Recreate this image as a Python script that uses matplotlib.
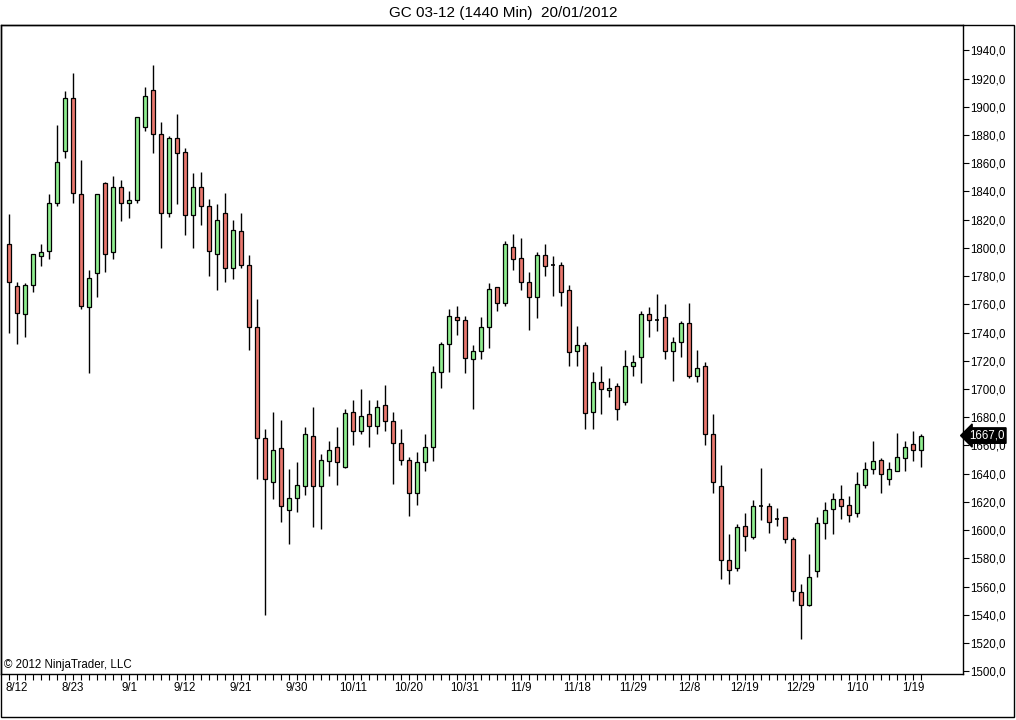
import matplotlib.pyplot as plt
from matplotlib.patches import Rectangle

plt.rcParams['font.family'] = ['Liberation Sans', 'DejaVu Sans']

# daily OHLC, GC 03-12, 8/11/2011 .. 1/20/2012
opens = [1803, 1773, 1753, 1774, 1794, 1798, 1832, 1869, 1906, 1838,
         1758, 1782, 1846, 1797, 1843, 1832, 1834, 1886, 1912, 1881,
         1825, 1878, 1868, 1823, 1843, 1830, 1796, 1825, 1786, 1812,
         1788, 1744, 1665, 1634, 1658, 1614, 1623, 1631, 1667, 1631,
         1649, 1659, 1645, 1684, 1670, 1682, 1674, 1689, 1677, 1662,
         1650, 1626, 1648, 1659, 1712, 1732, 1751, 1749, 1721, 1727,
         1744, 1772, 1761, 1801, 1793, 1776, 1765, 1795, 1788, 1788,
         1770, 1727, 1731, 1684, 1705, 1699, 1702, 1691, 1716, 1723,
         1753, 1749, 1751, 1727, 1733, 1747, 1709, 1716, 1668, 1631,
         1579, 1573, 1603, 1595, 1617, 1617, 1608, 1609, 1594, 1556,
         1547, 1571, 1605, 1615, 1622, 1618, 1612, 1632, 1643, 1650,
         1636, 1642, 1651, 1661, 1657]
highs = [1824, 1776, 1775, 1796, 1803, 1838, 1887, 1911, 1924, 1862,
         1784, 1838, 1847, 1851, 1848, 1840, 1893, 1914, 1930, 1889,
         1879, 1895, 1871, 1853, 1854, 1835, 1831, 1839, 1820, 1825,
         1795, 1764, 1672, 1684, 1678, 1643, 1648, 1673, 1687, 1654,
         1663, 1673, 1686, 1692, 1700, 1692, 1692, 1703, 1684, 1672,
         1652, 1655, 1668, 1716, 1733, 1757, 1759, 1752, 1731, 1751,
         1775, 1772, 1805, 1810, 1807, 1783, 1797, 1803, 1794, 1790,
         1774, 1745, 1733, 1712, 1716, 1708, 1704, 1728, 1724, 1755,
         1758, 1767, 1760, 1737, 1748, 1761, 1728, 1719, 1682, 1646,
         1597, 1604, 1612, 1621, 1644, 1619, 1616, 1609, 1595, 1562,
         1583, 1609, 1620, 1626, 1632, 1624, 1641, 1648, 1663, 1651,
         1648, 1669, 1663, 1670, 1668]
lows = [1740, 1732, 1737, 1769, 1787, 1792, 1830, 1864, 1832, 1757,
        1711, 1765, 1783, 1792, 1819, 1821, 1832, 1883, 1867, 1800,
        1822, 1831, 1809, 1800, 1816, 1780, 1770, 1776, 1778, 1786,
        1728, 1636, 1540, 1622, 1606, 1590, 1613, 1625, 1602, 1601,
        1638, 1632, 1644, 1660, 1668, 1659, 1668, 1670, 1633, 1646,
        1610, 1618, 1642, 1649, 1701, 1712, 1738, 1711, 1686, 1721,
        1729, 1755, 1759, 1784, 1770, 1742, 1750, 1780, 1766, 1759,
        1716, 1716, 1672, 1672, 1682, 1694, 1678, 1689, 1709, 1704,
        1737, 1741, 1721, 1706, 1723, 1708, 1705, 1660, 1626, 1565,
        1562, 1571, 1585, 1594, 1607, 1598, 1603, 1591, 1550, 1523,
        1546, 1567, 1594, 1597, 1608, 1606, 1609, 1630, 1640, 1626,
        1632, 1642, 1642, 1649, 1645]
closes = [1776, 1754, 1774, 1796, 1797, 1832, 1861, 1906, 1839, 1759,
          1779, 1838, 1796, 1843, 1832, 1834, 1893, 1908, 1881, 1825,
          1878, 1867, 1823, 1843, 1830, 1798, 1820, 1786, 1813, 1788,
          1744, 1665, 1636, 1657, 1617, 1623, 1632, 1668, 1631, 1650,
          1657, 1648, 1683, 1670, 1681, 1674, 1687, 1677, 1662, 1650,
          1626, 1648, 1659, 1712, 1732, 1752, 1749, 1722, 1727, 1744,
          1771, 1761, 1803, 1792, 1776, 1765, 1795, 1787, 1788, 1769,
          1726, 1731, 1683, 1705, 1700, 1701, 1686, 1716, 1719, 1753,
          1749, 1749, 1727, 1733, 1747, 1709, 1715, 1668, 1634, 1579,
          1572, 1602, 1596, 1617, 1617, 1606, 1608, 1594, 1557, 1547,
          1567, 1605, 1614, 1622, 1617, 1611, 1633, 1643, 1649, 1640,
          1643, 1652, 1659, 1657, 1667]

date_labels = ['8/12', '8/23', '9/1', '9/12', '9/21', '9/30', '10/11', '10/20',
               '10/31', '11/9', '11/18', '11/29', '12/8', '12/19', '12/29',
               '1/10', '1/19']
price_ticks = list(range(1500, 1941, 20))
last_price = 1667.0

up_color = '#90EE90'
down_color = '#E9786E'

fig = plt.figure(figsize=(10.16, 7.2), dpi=100)
ax = fig.add_axes([0.001, 1 - 674 / 720, 962 / 1016, (674 - 25) / 720])

xs = list(range(len(opens)))

# wicks
ax.vlines(xs, lows, highs, color='black', linewidth=1, zorder=1)

# bodies
for x, o, c in zip(xs, opens, closes):
    if o == c:
        ax.hlines(o, x - 0.3, x + 0.3, color='black', linewidth=1.2, zorder=2)
        continue
    col = up_color if c > o else down_color
    ax.bar(x, abs(c - o), bottom=min(o, c), width=0.62, color=col,
           edgecolor='black', linewidth=0.9, zorder=2)

ax.set_xlim(-1, 119.25)
ax.set_ylim(1498, 1958)

ax.yaxis.tick_right()
ax.set_yticks(price_ticks)
ax.set_yticklabels([f'{p:.1f}'.replace('.', ',') for p in price_ticks])
ax.tick_params(axis='y', direction='out', length=4, width=0.8,
               labelsize=8.3, pad=1, colors='black')

ax.set_xticks([1 + 7 * i for i in range(len(date_labels))])
ax.set_xticklabels(date_labels)
ax.set_xticks(xs, minor=True)
ax.tick_params(axis='x', which='both', direction='out', length=4, width=0.8,
               labelsize=8.3, pad=2)

for side in ['left', 'top', 'right', 'bottom']:
    ax.spines[side].set_linewidth(1)
    ax.spines[side].set_color('black')

# last price marker
ax.text(1.006, (last_price - 1498) / (1958 - 1498), f'{last_price:.1f}'.replace('.', ','),
        transform=ax.transAxes, ha='left', va='center', fontsize=8.3, color='white',
        bbox=dict(boxstyle='larrow,pad=0.15', facecolor='black', edgecolor='black'))

ax.text(0.003, 0.004, '\u00a9 2012 NinjaTrader, LLC', transform=ax.transAxes,
        ha='left', va='bottom', fontsize=8.3)

fig.text(503 / 1016, 1 - 13 / 720, 'GC 03-12 (1440 Min)  20/01/2012',
         ha='center', va='center', fontsize=11)

fig.patches.append(Rectangle((0.0005, 3 / 720), 1013 / 1016, (717 - 25) / 720,
                             transform=fig.transFigure, fill=False,
                             edgecolor='black', linewidth=1))

plt.savefig('out.png', dpi=100)
